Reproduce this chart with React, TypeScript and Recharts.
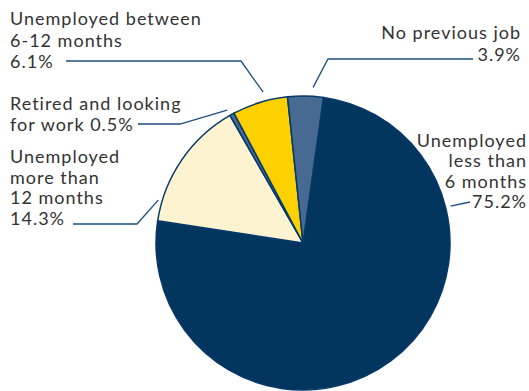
import React from 'react';
import { PieChart, Pie, Cell } from 'recharts';

// reasons for unemployment, share of unemployed (%)
const categories = [
  'Unemployed less than 6 months',
  'Unemployed more than 12 months',
  'Retired and looking for work',
  'Unemployed between 6-12 months',
  'No previous job',
];
const shares = [75.2, 14.3, 0.5, 6.1, 3.9];

// text of each label, the value is appended to the last line
const labelLines = [
  ['Unemployed', 'less than', '6 months', ''],
  ['Unemployed', 'more than', '12 months', ''],
  ['Retired and looking', 'for work '],
  ['Unemployed between', '6-12 months', ''],
  ['No previous job', ''],
];

const COLORS = ['#02365F', '#FEF3D1', '#476A93', '#FDD100', '#476A93'];
const STROKE = '#06396A';
const TEXT = '#333333';

// label placement: leader start (angle clockwise from top, gap beyond the rim),
// leader bends, text anchor/x and first baseline
const LABEL_LAYOUT = [
  { angle: 76, gap: 5, bends: [[470, 202]], anchor: 'end', x: 527, y: 147, step: 20.3 },
  { angle: 286.5, gap: 4, bends: [[137, 224], [73, 224]], anchor: 'start', x: 10, y: 163, step: 20.7 },
  { angle: 330.3, gap: 6, bends: [[180, 124], [138, 124]], anchor: 'start', x: 10, y: 110, step: 21 },
  { angle: 345.2, gap: 9, bends: [[241, 61], [66, 61]], anchor: 'start', x: 10, y: 25, step: 21.5 },
  { angle: 3.7, gap: 9, bends: [[328, 59], [473, 59]], anchor: 'end', x: 521, y: 39, step: 22 },
];

const data = categories.map((name, i) => ({ name, value: shares[i] }));

const renderLabel = (props: any) => {
  const { cx, cy, outerRadius, index } = props;
  const cfg = LABEL_LAYOUT[index];
  const rad = (cfg.angle * Math.PI) / 180;
  const r = outerRadius + cfg.gap;
  const sx = cx + r * Math.sin(rad);
  const sy = cy - r * Math.cos(rad);
  const pts = [[sx, sy], ...cfg.bends].map((p) => p.join(',')).join(' ');
  const lines = labelLines[index].map((l, j, arr) =>
    j === arr.length - 1 ? `${l}${shares[index].toFixed(1)}%` : l,
  );
  return (
    <g key={`lbl-${index}`}>
      <polyline points={pts} fill="none" stroke="#1D4F7E" strokeWidth={1.3} />
      <text
        x={cfg.x}
        y={cfg.y}
        textAnchor={cfg.anchor}
        fill={TEXT}
        fontSize={18}
        letterSpacing={1}
        fontFamily="Lato, 'Noto Sans', sans-serif"
      >
        {lines.map((l, j) => (
          <tspan key={j} x={cfg.x} y={cfg.y + j * cfg.step}>
            {l}
          </tspan>
        ))}
      </text>
    </g>
  );
};

export default function App() {
  return (
    <div style={{ position: 'absolute', left: 0, top: 0, width: 529, height: 391, background: '#fff' }}>
      <PieChart width={529} height={391} margin={{ top: 0, right: 0, bottom: 0, left: 0 }}>
        <Pie
          data={data}
          dataKey="value"
          nameKey="name"
          cx={303}
          cy={243}
          outerRadius={147}
          startAngle={82}
          endAngle={-278}
          stroke={STROKE}
          strokeWidth={1.5}
          label={renderLabel}
          labelLine={false}
          isAnimationActive={false}
        >
          {data.map((entry, i) => (
            <Cell key={`cell-${i}`} fill={COLORS[i]} />
          ))}
        </Pie>
      </PieChart>
    </div>
  );
}
